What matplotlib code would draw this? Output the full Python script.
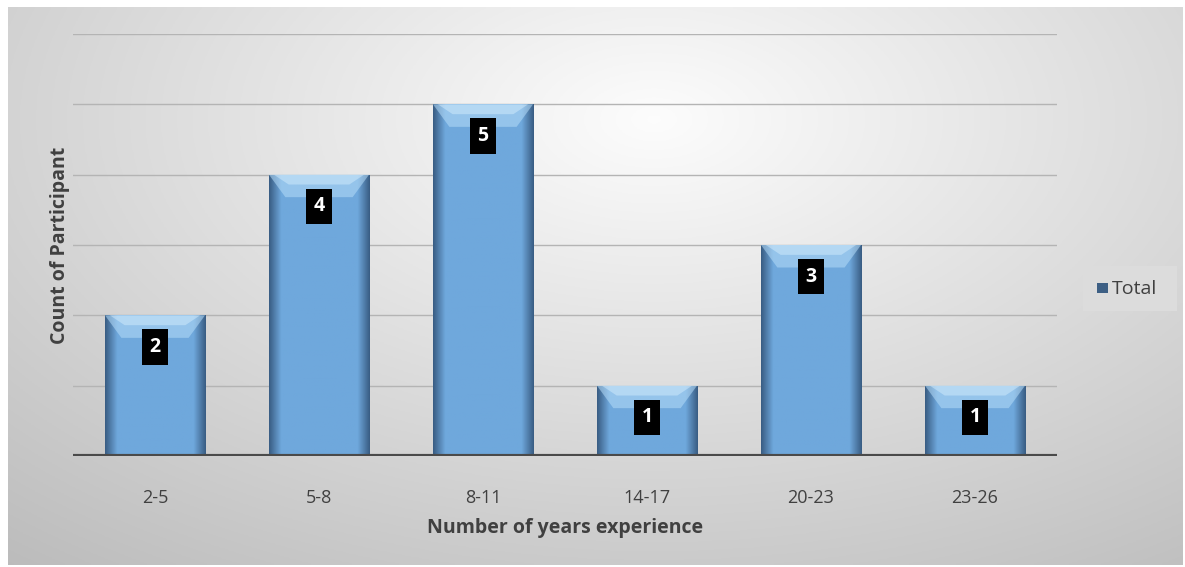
import numpy as np
import matplotlib
matplotlib.use("Agg")
import matplotlib.pyplot as plt
from matplotlib.patches import Rectangle, Polygon

# ========= DATA =========
categories = ["2-5", "5-8", "8-11", "14-17", "20-23", "23-26"]
counts = [2, 4, 5, 1, 3, 1]
series_name = "Total"
# ========================

plt.rcParams["font.family"] = ["Open Sans", "DejaVu Sans"]

fig = plt.figure(figsize=(11.85, 5.67), dpi=100)

# ---- chart area background (grey radial gradient) ----
bg = fig.add_axes([8 / 1185, 2 / 567, 1175 / 1185, 558 / 567])
yy, xx = np.mgrid[0:1:200j, 0:1:400j]
r = np.sqrt(((xx - 0.55) / 0.75) ** 2 + ((yy - 0.2) / 0.9) ** 2)
shade = 0.99 - 0.22 * np.clip(r, 0, 1.2)
bg.imshow(np.dstack([shade, shade, shade]), aspect="auto", extent=[0, 1, 0, 1], origin="upper")
bg.set_xlim(0, 1)
bg.set_ylim(0, 1)
bg.axis("off")

ax = fig.add_axes([73 / 1185, 111 / 567, 984 / 1185, 422 / 567])
ax.patch.set_alpha(0)

x = np.arange(len(categories))
width = 0.61

# gridlines
for v in range(1, 7):
    ax.axhline(v, color="#b4b4b4", linewidth=1.0, zorder=1)

# horizontal bevel gradient for bars
grad = np.linspace(0, 1, 100)
edge = np.minimum(grad, 1 - grad)
light = np.clip(edge / 0.12, 0, 1)
base = np.array([0x6f, 0xa8, 0xdc]) / 255.0
dark = np.array([0x3a, 0x5e, 0x85]) / 255.0
cols = dark[None, :] * (1 - light[:, None]) + base[None, :] * light[:, None]
img = np.tile(cols[None, :, :], (20, 1, 1))

bars = ax.bar(x, counts, width=width, color="#6fa8dc", edgecolor="none", zorder=2)
for b, v in zip(bars, counts):
    x0 = b.get_x()
    im = ax.imshow(img, extent=[x0, x0 + width, 0, v], aspect="auto", zorder=3)
    im.set_clip_path(b)
    # top highlight bevel (trapezoid)
    ax.add_patch(Polygon([(x0, v), (x0 + width, v), (x0 + width - 0.1, v - 0.32),
                          (x0 + 0.1, v - 0.32)], closed=True,
                         facecolor="#b5dcf8", alpha=0.55, linewidth=0, zorder=4))
    ax.add_patch(Polygon([(x0 + 0.03, v), (x0 + width - 0.03, v), (x0 + width - 0.12, v - 0.14),
                          (x0 + 0.12, v - 0.14)], closed=True,
                         facecolor="#d4ecfc", alpha=0.5, linewidth=0, zorder=4))
    ax.text(b.get_x() + width / 2, v - 0.45, str(v), ha="center", va="center",
            color="white", fontsize=14, fontweight="bold", zorder=6,
            bbox=dict(boxstyle="square,pad=0.4", facecolor="black", edgecolor="none"))

ax.axhline(0, color="#4a4a4a", linewidth=3, zorder=5)

ax.set_xlim(-0.5, len(categories) - 0.5)
ax.set_ylim(0, 6)
ax.set_yticks([])
ax.set_xticks(x)
ax.set_xticklabels(categories, fontsize=13, color="#404040")
ax.tick_params(axis="x", length=0, pad=24)
for s in ax.spines.values():
    s.set_visible(False)

ax.set_xlabel("Number of years experience", fontsize=14, fontweight="bold",
              color="#404040", labelpad=8)
ax.set_ylabel("Count of Participant", fontsize=14, fontweight="bold",
              color="#404040", labelpad=2)

# ---- legend ----
fig.patches.append(Rectangle((1083 / 1185, (567 - 311) / 567), 94 / 1185, 45 / 567,
                             transform=fig.transFigure, facecolor="#dcdcdc",
                             edgecolor="none", zorder=1))
fig.patches.append(Rectangle((1097 / 1185, (567 - 293) / 567), 11 / 1185, 10 / 567,
                             transform=fig.transFigure, facecolor="#3d5f84",
                             edgecolor="none", zorder=2))
fig.text(1112 / 1185, (567 - 289) / 567, series_name, fontsize=14, color="#404040",
         va="center", ha="left")

plt.savefig("out.png", dpi=100)
